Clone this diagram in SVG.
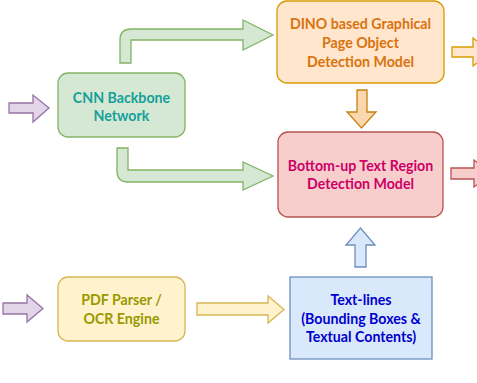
<svg xmlns="http://www.w3.org/2000/svg" width="477" height="383" viewBox="0 0 477 383">
<style>
text{font-family:Lato,"Noto Sans",sans-serif;font-weight:bold;font-size:14.2px;text-anchor:middle}
.g{fill:#d5e8d4;stroke:#82b366;stroke-width:1.3}
.o{fill:#ffe6cc;stroke:#d79b00;stroke-width:1.3}
.r{fill:#f8cecc;stroke:#b85450;stroke-width:1.3}
.y{fill:#fff2cc;stroke:#d6b656;stroke-width:1.3}
.b{fill:#dae8fc;stroke:#6c8ebf;stroke-width:1.3}
.p{fill:#e1d5e7;stroke:#9673a6;stroke-width:1.3}
.oa{fill:#fad7ac;stroke:#c9800f;stroke-width:1.3}
</style>
<rect width="477" height="383" fill="#fff"/>
<g id="connectors">
<path class="p" d="M9,103 L33,103 L33,95 L49,108 L33,122 L33,113 L9,113 Z"/>
<path class="g" d="M120,63 L120,40 Q120,29 131,29 L243,29 L243,20 L273,35 L243,50 L243,40 L131,40 L131,63 Z"/>
<path class="g" d="M117,148 L128,148 L128,170 L243,170 L243,162 L273,176 L243,190 L243,182 L128,182 Q117,182 117,171 Z"/>
<path class="oa" d="M357,90 L367,90 L367,112 L376,112 L361.5,128 L347,112 L357,112 Z"/>
<path class="o" d="M452,47 L473,47 L473,38 L492,52 L473,66 L473,57 L452,57 Z"/>
<path class="r" d="M451,168 L474,168 L474,160 L492,173.5 L474,187 L474,179 L451,179 Z"/>
<path class="b" d="M355,267 L355,245 L346,245 L360.5,228 L375,245 L366,245 L366,267 Z"/>
<path class="p" d="M3,303 L27,303 L27,295 L43,308.5 L27,322 L27,314 L3,314 Z"/>
<path class="y" d="M197,303 L268,303 L268,296 L284,309.5 L268,323 L268,315 L197,315 Z"/>
</g>
<g id="cnn">
<rect class="g" x="58" y="73" width="127" height="64" rx="10"/>
<text x="121.5" y="103" fill="#16a09a">CNN Backbone</text>
<text x="121.5" y="121" fill="#16a09a">Network</text>
</g>
<g id="dino">
<rect class="o" x="277" y="1" width="167" height="82" rx="10"/>
<text x="360.5" y="29" fill="#d9730f">DINO based Graphical</text>
<text x="360.5" y="48" fill="#d9730f">Page Object</text>
<text x="360.5" y="67" fill="#d9730f">Detection Model</text>
</g>
<g id="bottomup">
<rect class="r" x="278" y="132" width="165" height="85" rx="10"/>
<text x="360.5" y="171" fill="#cc0066">Bottom-up Text Region</text>
<text x="360.5" y="189" fill="#cc0066">Detection Model</text>
</g>
<g id="pdf">
<rect class="y" x="58" y="277" width="127" height="64" rx="10"/>
<text x="121.5" y="305" fill="#999900">PDF Parser /</text>
<text x="121.5" y="324" fill="#999900">OCR Engine</text>
</g>
<g id="textlines">
<rect class="b" x="290" y="277" width="142" height="82"/>
<text x="361" y="305" fill="#0000cc">Text-lines</text>
<text x="361" y="324" fill="#0000cc">(Bounding Boxes &amp;</text>
<text x="361" y="342" fill="#0000cc">Textual Contents)</text>
</g>
</svg>
